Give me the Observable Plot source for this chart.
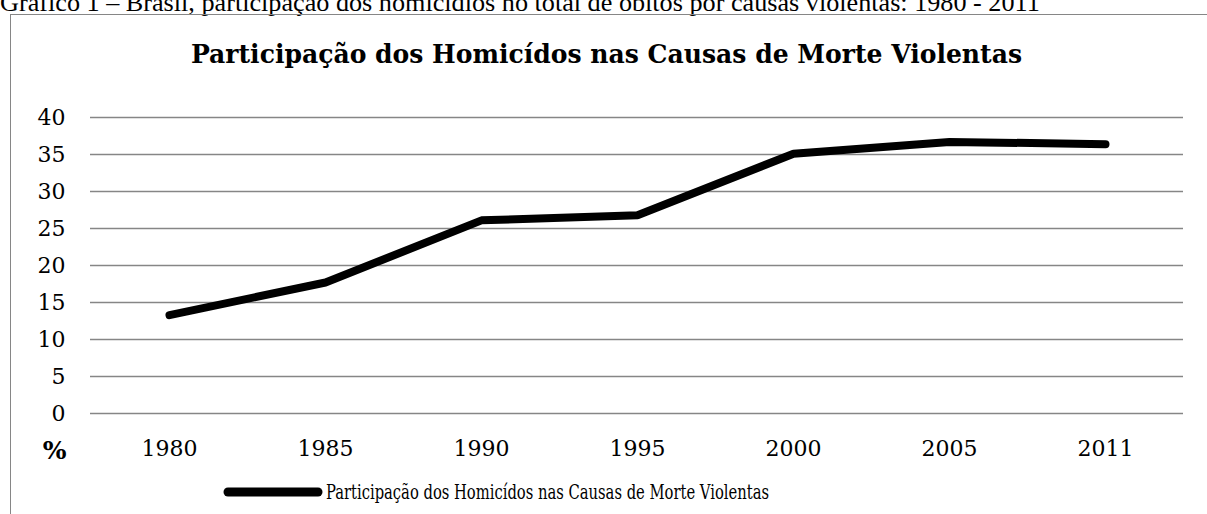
<!DOCTYPE html>
<html>
<head>
<meta charset="utf-8">
<script src="https://cdn.jsdelivr.net/npm/d3@7"></script>
<script src="https://cdn.jsdelivr.net/npm/@observablehq/plot@0.6"></script>
<style>
  html, body { margin: 0; padding: 0; background: #fff; }
  body { width: 1207px; height: 514px; position: relative; overflow: hidden; }
  #caption { position: absolute; left: 0; top: -12px; font-family: "Liberation Serif", serif; font-size: 23px; white-space: nowrap; color: #000; }
  #box { position: absolute; left: 10px; top: 14px; width: 1210px; height: 520px; border: 1.5px solid #868686; }
  #title { position: absolute; left: 191px; top: 39px; font-family: "DejaVu Serif Condensed", "DejaVu Serif", serif; font-weight: bold; font-size: 26px; white-space: nowrap; transform-origin: 0 0; }
  #chart { position: absolute; left: 0; top: 0; }
  #legend { position: absolute; left: 222px; top: 480px; height: 24px; display: flex; align-items: center; }
  #legtext { display: inline-block; font-family: "DejaVu Serif Condensed", "DejaVu Serif", serif; font-size: 20px; white-space: nowrap; transform-origin: 0 50%; }
</style>
</head>
<body>
<div id="caption">Gráfico 1 – Brasil, participação dos homicídios no total de óbitos por causas violentas: 1980 - 2011</div>
<div id="box"></div>
<div id="chart"></div>
<div id="title">Participação dos Homicídos nas Causas de Morte Violentas</div>
<div id="legend"><svg width="104" height="14"><line x1="6" y1="7" x2="96" y2="7" stroke="#000" stroke-width="9" stroke-linecap="round"/></svg><span id="legtext">Participação dos Homicídos nas Causas de Morte Violentas</span></div>
<script>
const years = ["1980", "1985", "1990", "1995", "2000", "2005", "2011"];
const values = [13.3, 17.7, 26.1, 26.8, 35.1, 36.7, 36.4];
const yTicks = [0, 5, 10, 15, 20, 25, 30, 35, 40];
const seriesName = "Participação dos Homicídos nas Causas de Morte Violentas";

const data = years.map((y, i) => ({year: y, value: values[i]}));

const chart = Plot.plot({
  width: 1207,
  height: 514,
  marginLeft: 90,
  marginRight: 24,
  marginTop: 117,
  marginBottom: 101,
  style: {background: "transparent", fontFamily: "'DejaVu Serif', serif", fontSize: "22px", color: "#000", overflow: "visible"},
  x: {type: "point", domain: years, padding: 0.5, label: null},
  y: {domain: [0, 40], label: null},
  marks: [
    Plot.ruleY(yTicks, {stroke: "#868686", strokeWidth: 1.5, strokeOpacity: 1}),
    Plot.axisY(yTicks, {tickSize: 0, tickPadding: 25, fontSize: 22, fill: "#000", tickFormat: d => String(d)}),
    Plot.axisX(years, {tickSize: 0, tickPadding: 27, fontSize: 22, fill: "#000"}),
    Plot.line(data, {x: "year", y: "value", stroke: "#000", strokeWidth: 8, strokeLinecap: "round", strokeLinejoin: "miter"}),
    Plot.text(["%"], {frameAnchor: "bottom-left", dx: -36, dy: 45, text: d => d, textAnchor: "middle", fontWeight: "bold", fontSize: 25, fill: "#000"})
  ]
});
document.getElementById("chart").appendChild(chart);

function fitScale(el, target) {
  const w = el.getBoundingClientRect().width;
  el.style.transform = `scaleX(${target / w})`;
}
function fitSize(el, target) {
  const w = el.getBoundingClientRect().width;
  const fs = parseFloat(getComputedStyle(el).fontSize);
  el.style.fontSize = (fs * target / w) + "px";
}
fitSize(document.getElementById("caption"), 1040);
fitScale(document.getElementById("title"), 831);
fitScale(document.getElementById("legtext"), 443);
</script>
</body>
</html>
